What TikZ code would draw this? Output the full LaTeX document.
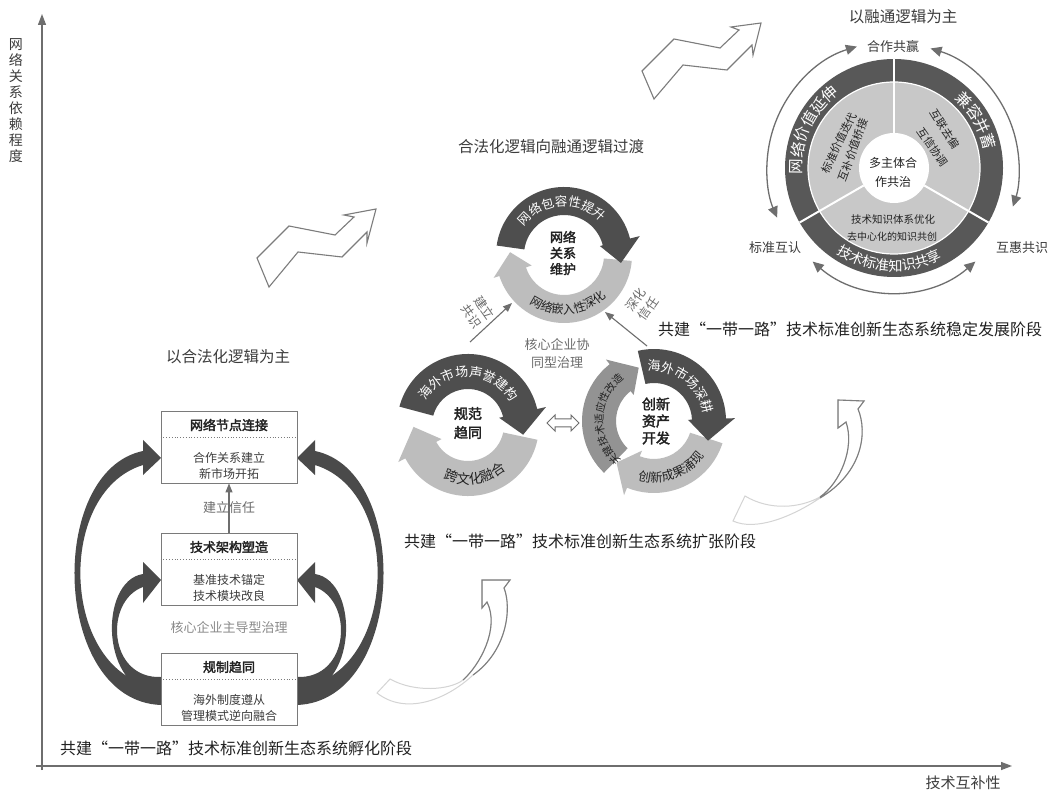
\documentclass[tikz,border=0pt]{standalone}
\usepackage{fontspec}
\setmainfont{Noto Sans CJK SC}[AutoFakeBold=2.5]
\usetikzlibrary{arrows.meta,decorations.text}
\definecolor{darkarc}{HTML}{4E4E4E}
\definecolor{lightarc}{HTML}{BDBDBD}
\definecolor{medarc}{HTML}{939393}
\definecolor{axisgray}{HTML}{6E6E6E}
\definecolor{boxgray}{HTML}{7A7A7A}
\definecolor{bigdark}{HTML}{4A4A4A}
\definecolor{txt}{HTML}{222222}
\definecolor{txtb}{HTML}{3C3C3C}
\definecolor{txtgray}{HTML}{6C6C6C}
\definecolor{ringdark}{HTML}{585858}
\definecolor{ringlight}{HTML}{C8C8C8}
\definecolor{ziggray}{HTML}{7C7C7C}
\definecolor{hollowlight}{HTML}{D4D4D4}
\definecolor{hollowdark}{HTML}{7E7E7E}

% center, rin, rout, start, end(head base), tip, inner overhang, outer overhang, colour
\newcommand{\ringarrow}[9]{%
  \begin{scope}[shift={#1}]
    \fill[#9] (#4:#3) arc[start angle=#4,end angle=#5,radius=#3]
      -- ({#5}:{#3+#8}) -- ({#6}:{(#2-#7+#3+#8)/2}) -- ({#5}:{#2-#7})
      -- (#5:#2) arc[start angle=#5,end angle=#4,radius=#2] -- cycle;
  \end{scope}}
% center, radius, start, end, format, text
\newcommand{\arctext}[6]{%
  \path[decorate,decoration={text along path,text align=center,text={|#5|#6}}]
    #1 ++(#3:#2) arc[start angle=#3,end angle=#4,radius=#2];}

\tikzset{
  axisln/.style={draw=axisgray,line width=1.3,-{Triangle[length=11pt,width=8pt]}},
  stagebox/.style={draw=boxgray,line width=0.9,minimum width=136pt,minimum height=72pt,inner sep=0pt},
  btitle/.style={font=\bfseries\fontsize{13}{15}\selectfont,text=txt},
  btext/.style={font=\fontsize{12}{16}\selectfont,text=txtb,align=center},
  dotln/.style={draw=boxgray,line width=0.8,dotted},
  bigarr/.style={fill=bigdark},
  lab/.style={font=\fontsize{13}{18}\selectfont,text=txtgray,align=center},
  rlab/.style={font=\fontsize{12.5}{15}\selectfont,text=txtgray,align=center},
  capt/.style={font=\fontsize{16}{18}\selectfont,text=txt},
  ttl/.style={font=\fontsize{15.5}{18}\selectfont,text=txtb},
  centertxt/.style={font=\bfseries\fontsize{14}{19}\selectfont,text=txt,align=center},
  thinarr/.style={draw=axisgray,line width=1.1,-{Triangle[length=9pt,width=7pt]}},
  zigarr/.style={draw=ziggray,line width=1.1,fill=white,line join=miter},
  hollowlt/.style={draw=hollowlight,line width=1},
  hollowdk/.style={draw=hollowdark,line width=1.1},
  ringarr/.style={draw=axisgray,line width=1.3,{Triangle[length=11pt,width=10pt]}-{Triangle[length=11pt,width=10pt]}},
  smalltxt/.style={font=\fontsize{11}{13}\selectfont,text=txt},
  ylab/.style={font=\fontsize{14}{16}\selectfont,text=txtb,align=center},
}

\begin{document}
\begin{tikzpicture}[x=1pt,y=1pt]
\useasboundingbox (0,0) rectangle (1059,793);
\fill[white] (0,0) rectangle (1059,793);

% ---------------- axes
\coordinate (vbot) at (42,23);
\coordinate (vtop) at (42,779);
\coordinate (hleft) at (36,27);
\coordinate (hright) at (1012,27);
\draw[axisln] (vbot) -- (vtop);
\draw[axisln] (hleft) -- (hright);
\node[ylab] (ylabel) at (16,692) {网\\络\\关\\系\\依\\赖\\程\\度};
\node[font=\fontsize{15}{17}\selectfont,text=txtb] (xlabel) at (963,10) {技术互补性};

% ---------------- stage 1
\node[ttl] (t1) at (228,436) {以合法化逻辑为主};
\fill[bigarr] (161,106) .. controls (62,112) and (52,300) .. (143,328) -- (143,318) -- (161,335) -- (143,353) -- (143,342) .. controls (46,322) and (52,92) .. (161,88) -- cycle;
\fill[bigarr] (161,116) .. controls (108,114) and (104,192) .. (143,206) -- (143,190) -- (161,213) -- (143,231) -- (143,219) .. controls (98,212) and (100,100) .. (161,99) -- cycle;
\fill[bigarr] (297,106) .. controls (396,112) and (406,300) .. (315,328) -- (315,318) -- (297,335) -- (315,353) -- (315,342) .. controls (412,322) and (406,92) .. (297,88) -- cycle;
\fill[bigarr] (297,116) .. controls (350,114) and (354,192) .. (315,206) -- (315,190) -- (297,213) -- (315,231) -- (315,219) .. controls (360,212) and (358,100) .. (297,99) -- cycle;

\node[stagebox,fill=white] (b1) at (229,346) {};
\draw[dotln] ([yshift=10pt]b1.west) -- ([yshift=10pt]b1.east);
\node[btitle] (b1t) at (229,368) {网络节点连接};
\node[btext] (b1x) at (229,327) {合作关系建立\\新市场开拓};

\node[stagebox,fill=white] (b2) at (229,224) {};
\draw[dotln] ([yshift=10pt]b2.west) -- ([yshift=10pt]b2.east);
\node[btitle] (b2t) at (229,246) {技术架构塑造};
\node[btext] (b2x) at (229,205) {基准技术锚定\\技术模块改良};

\node[stagebox,fill=white] (b3) at (229,104) {};
\draw[dotln] ([yshift=10pt]b3.west) -- ([yshift=10pt]b3.east);
\node[btitle] (b3t) at (229,126) {规制趋同};
\node[btext] (b3x) at (229,85) {海外制度遵从\\管理模式逆向融合};

\draw[thinarr] (b2.north) -- (b1.south);
\node[lab] (l12) at (229,285) {建立信任};
\node[lab,text=txtgray!80] (l1g) at (229,165) {核心企业主导型治理};
\node[capt] (cap1) at (236,45) {共建“一带一路”技术标准创新生态系统孵化阶段};

% zigzag arrows
\draw[zigarr] (257,535) -- (289,567) -- (335,558) -- (354,576) -- (344,578) -- (376,584) -- (367,550) -- (367,561) -- (342,536) -- (298,541) -- (269,506) -- cycle;
\draw[zigarr] (642,722) -- (674,754) -- (720,745) -- (739,763) -- (731,766) -- (761,770) -- (753,738) -- (752,748) -- (727,723) -- (683,728) -- (654,694) -- cycle;

% curved hollow arrows
\draw[hollowlt] (482,213) -- (510,213) -- (504,205) .. controls (512,185) and (507,142) .. (473,118) .. controls (445,92) and (405,78) .. (377,100) -- (390,114) .. controls (415,100) and (450,103) .. (463,113) .. controls (480,128) and (500,165) .. (487,191) -- (482,185) -- cycle;
\draw[hollowdk] (463,113) .. controls (480,128) and (500,165) .. (487,191) -- (482,185) -- (482,213) -- (510,213) -- (504,205) .. controls (512,185) and (507,142) .. (473,118);
\draw[hollowlt] (838,393) -- (864,392) -- (858,384) .. controls (868,360) and (862,320) .. (820,295) .. controls (790,275) and (755,262) .. (733,272) -- (745,297) .. controls (770,282) and (800,285) .. (820,296) .. controls (840,310) and (855,345) .. (846,371) -- (838,365) -- cycle;
\draw[hollowdk] (820,296) .. controls (840,310) and (855,345) .. (846,371) -- (838,365) -- (838,393) -- (864,392) -- (858,384) .. controls (868,360) and (862,320) .. (820,295);

% ---------------- stage 2
\node[ttl] (t2) at (551,646) {合法化逻辑向融通逻辑过渡};
% top cycle
\ringarrow{(564,538)}{40}{68}{-5}{-162}{-183}{6}{6}{lightarc}
\ringarrow{(564,538)}{40}{68}{172}{14}{-8}{3}{10}{darkarc}
\arctext{(564,538)}{49}{153}{33}{\fontsize{12.5}{12.5}\selectfont\color{white}}{网络包容性提升}
\arctext{(564,538)}{59}{215}{335}{\fontsize{12}{12}\selectfont\color{txt}}{网络嵌入性深化}
\node[centertxt,font=\bfseries\fontsize{13}{16}\selectfont] (c1) at (563,540) {网络\\关系\\维护};
% left cycle
\ringarrow{(468,368)}{36}{71}{-12}{-152}{-178}{6}{8}{lightarc}
\ringarrow{(468,368)}{36}{71}{165}{13}{-10}{4}{9}{darkarc}
\arctext{(468,368)}{48.5}{160}{18}{\fontsize{13}{13}\selectfont\color{white}}{海外市场声誉建构}
\arctext{(468,368)}{59}{228}{328}{\fontsize{13.5}{13.5}\selectfont\color{txt}}{跨文化融合}
\node[centertxt] (c2) at (468,370) {规范\\趋同};
% right cycle
\ringarrow{(654,372)}{38}{72}{226}{128}{106}{5}{6}{medarc}
\ringarrow{(654,372)}{38}{72}{-18}{-112}{-132}{6}{8}{lightarc}
\ringarrow{(654,372)}{38}{72}{103}{2}{-20}{4}{9}{darkarc}
\arctext{(654,372)}{50}{110}{-5}{\fontsize{13}{13}\selectfont\color{white}}{海外市场深耕}
\arctext{(654,372)}{61}{235}{345}{\fontsize{12.5}{12.5}\selectfont\color{txt}}{创新成果涌现}
\arctext{(654,372)}{51}{243}{113}{\fontsize{10.5}{10.5}\selectfont\color{txt}}{关键技术适应性改造}
\node[centertxt,font=\bfseries\fontsize{14}{17}\selectfont] (c3) at (656,372) {创新\\资产\\开发};
% double arrow
\draw[draw=axisgray,line width=1,fill=white] (547,370) -- (555,378) -- (555,374) -- (571,374) -- (571,378) -- (579,370) -- (571,362) -- (571,366) -- (555,366) -- (555,362) -- cycle;
\node[lab] (l2g) at (557,439) {核心企业协\\同型治理};
% connectors
\coordinate (k1a) at (470,451);
\coordinate (k1b) at (512,490);
\coordinate (k2a) at (647,447);
\coordinate (k2b) at (605,481);
\draw[thinarr] (k1a) -- (k1b);
\draw[thinarr] (k2a) -- (k2b);
\node[rlab,rotate=-55] (k1l) at (478,481) {建立\\共识};
\node[rlab,rotate=55] (k2l) at (642,489) {深化\\信任};
\node[capt] (cap2) at (580,252) {共建“一带一路”技术标准创新生态系统扩张阶段};

% ---------------- stage 3
\node[ttl] (t3) at (903,776) {以融通逻辑为主};
\begin{scope}[shift={(894,625)}]
  \fill[ringdark] (0,0) circle[radius=109];
  \fill[ringlight] (0,0) circle[radius=86];
  \draw[white,line width=1.2] (0,0) circle[radius=86];
  \fill[white] (0,0) circle[radius=35];
  \foreach \a in {90,-30,210} \draw[white,line width=2] (\a:35) -- (\a:109);
  \draw[ringarr] (107:127) arc[start angle=107,end angle=203,radius=127];
  \draw[ringarr] (73:125) arc[start angle=73,end angle=-18,radius=125];
  \draw[ringarr] (229:124) arc[start angle=229,end angle=311,radius=124];
\end{scope}
\arctext{(894,625)}{92}{210}{100}{\fontsize{15.5}{15.5}\selectfont\color{white}}{网络价值延伸}
\arctext{(894,625)}{92}{85}{-25}{\fontsize{15.5}{15.5}\selectfont\color{white}}{兼容并蓄}
\arctext{(894,625)}{103}{212}{322}{\fontsize{14}{14}\selectfont\color{white}}{技术标准知识共享}
\node[smalltxt,rotate=64] (s1a) at (839,650) {标准价值迭代};
\node[smalltxt,rotate=70] (s1b) at (853,643) {互补价值桥接};
\node[smalltxt,rotate=-58] (s2a) at (945,664) {互联去偏};
\node[smalltxt,rotate=-55] (s2b) at (933,646) {互信协调};
\node[smalltxt,font=\fontsize{10.5}{12}\selectfont] (s3a) at (893,573) {技术知识体系优化};
\node[smalltxt,font=\fontsize{10}{12}\selectfont] (s3b) at (892,556) {去中心化的知识共创};
\node[smalltxt,font=\fontsize{12}{19}\selectfont,align=center] (s0) at (893,621) {多主体合\\作共治};
\node[lab,text=txtb] (hz) at (893,746) {合作共赢};
\node[lab,text=txtb] (bz) at (775,545) {标准互认};
\node[lab,text=txtb] (hh) at (1022,545) {互惠共识};
\node[capt] (cap3) at (850,464) {共建“一带一路”技术标准创新生态系统稳定发展阶段};
\end{tikzpicture}
\end{document}
